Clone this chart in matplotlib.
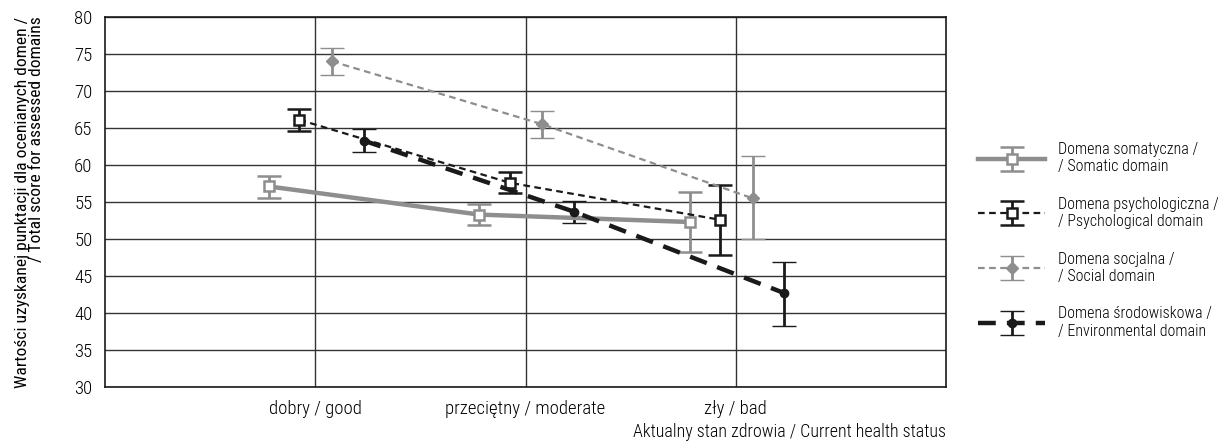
import numpy as np
import matplotlib.pyplot as plt
from matplotlib.legend_handler import HandlerErrorbar

plt.rcParams['font.family'] = ['Roboto Condensed', 'Barlow Condensed', 'Archivo Narrow',
                               'PT Sans Narrow', 'DejaVu Sans']
plt.rcParams['font.weight'] = 'light'

categories = ['dobry / good', 'przeciętny / moderate', 'zły / bad']

somatic = [57.1, 53.3, 52.3]
somatic_lo = [55.6, 51.9, 48.3]
somatic_hi = [58.5, 54.7, 56.3]

psych = [66.1, 57.6, 52.6]
psych_lo = [64.6, 56.2, 47.8]
psych_hi = [67.5, 59.0, 57.3]

social = [74.0, 65.5, 55.5]
social_lo = [72.2, 63.7, 50.0]
social_hi = [75.8, 67.3, 61.2]

environ = [63.3, 53.7, 42.7]
environ_lo = [61.7, 52.1, 38.3]
environ_hi = [64.8, 55.2, 46.9]

labels = ['Domena somatyczna /\n/ Somatic domain',
          'Domena psychologiczna /\n/ Psychological domain',
          'Domena socjalna /\n/ Social domain',
          'Domena środowiskowa /\n/ Environmental domain']

gray = '#8e8e8e'
black = '#1a1a1a'

fig = plt.figure(figsize=(12.18, 4.41), dpi=100)
ax = fig.add_axes([0.0862, 0.1224, 0.6905, 0.8391])

x = np.arange(1, 4)

series = [
    (somatic, somatic_lo, somatic_hi, -0.22,
     dict(color=gray, lw=3.2, ls='-', marker='s', mfc='white', mec=gray, ms=7, mew=1.8)),
    (psych, psych_lo, psych_hi, -0.075,
     dict(color=black, lw=1.6, ls=(0, (3, 2)), marker='s', mfc='white', mec=black, ms=7, mew=1.8)),
    (social, social_lo, social_hi, 0.08,
     dict(color=gray, lw=1.6, ls=(0, (3, 2)), marker='D', mfc=gray, mec=gray, ms=6, mew=1)),
    (environ, environ_lo, environ_hi, 0.23,
     dict(color=black, lw=3.2, ls=(0, (4, 2.5)), marker='o', mfc=black, mec=black, ms=6, mew=1)),
]

handles = []
for (vals, lo, hi, off, st), lab in zip(series, labels):
    vals = np.array(vals)
    err = [vals - np.array(lo), np.array(hi) - vals]
    h = ax.errorbar(x + off, vals, yerr=err, capsize=8.5, elinewidth=2, capthick=2,
                    ecolor=st['color'], label=lab, zorder=3, **st)
    handles.append(h)

ax.set_xlim(0, 4)
ax.set_ylim(30, 80)
ax.set_yticks(np.arange(30, 81, 5))
ax.set_xticks(x)
ax.set_xticklabels(categories)
ax.grid(True, color='#333333', lw=1)
ax.set_axisbelow(True)
ax.tick_params(length=0, labelsize=13.5, pad=9)
for s in ax.spines.values():
    s.set_color(black)
    s.set_linewidth(1.2)

ax.set_ylabel('Wartości uzyskanej punktacji dla ocenianych domen /\n/ Total score for assessed domains',
              fontsize=12.6, linespacing=0.85, labelpad=22, multialignment='right')
fig.text(0.777, 0.008, 'Aktualny stan zdrowia / Current health status', ha='right', fontsize=13)

fig.legend(handles=handles, loc='center left', bbox_to_anchor=(0.803, 0.455),
           frameon=False, fontsize=11.5, labelspacing=1.4, handlelength=4.2,
           handletextpad=0.8, borderpad=0, borderaxespad=0,
           handler_map={type(handles[0]): HandlerErrorbar(xerr_size=0.5, yerr_size=0.75)})

fig.savefig('out.png', dpi=100)
